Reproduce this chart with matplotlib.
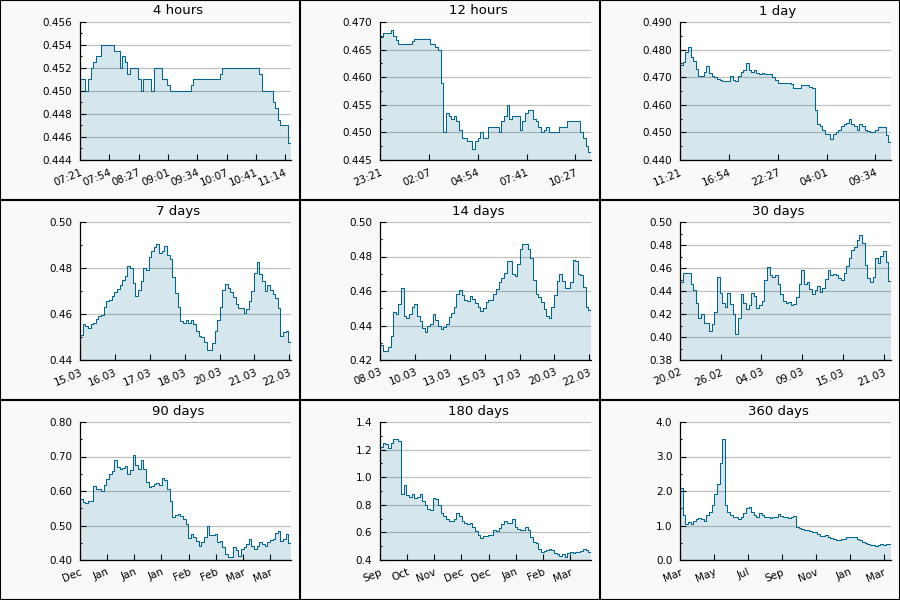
import numpy as np
import matplotlib.pyplot as plt
import matplotlib.transforms as mtransforms
from matplotlib.ticker import MultipleLocator, FormatStrFormatter
from matplotlib.lines import Line2D

# panel titles, time spans (seconds) and x tick spacing (seconds)
titles = ["4 hours", "12 hours", "1 day", "7 days", "14 days", "30 days",
          "90 days", "180 days", "360 days"]
spans = [14400, 43200, 86400, 604800, 1209600, 2592000, 7776000, 15552000, 31104000]
tick_steps = [2000, 10000, 20000, 100000, 200000, 500000, 1000000, 2000000, 5000000]

xlabels = [
    ["07:21", "07:54", "08:27", "09:01", "09:34", "10:07", "10:41", "11:14"],
    ["23:21", "02:07", "04:54", "07:41", "10:27"],
    ["11:21", "16:54", "22:27", "04:01", "09:34"],
    ["15.03", "16.03", "17.03", "18.03", "20.03", "21.03", "22.03"],
    ["08.03", "10.03", "13.03", "15.03", "17.03", "20.03", "22.03"],
    ["20.02", "26.02", "04.03", "09.03", "15.03", "21.03"],
    ["Dec", "Jan", "Jan", "Jan", "Feb", "Feb", "Mar", "Mar"],
    ["Sep", "Oct", "Nov", "Dec", "Dec", "Jan", "Feb", "Mar"],
    ["Mar", "May", "Jul", "Sep", "Nov", "Jan", "Mar"],
]

ylims = [(0.444, 0.456), (0.445, 0.470), (0.440, 0.490), (0.44, 0.50), (0.42, 0.50),
         (0.38, 0.50), (0.40, 0.80), (0.4, 1.4), (0.0, 4.0)]
ymajor = [0.002, 0.005, 0.010, 0.02, 0.02, 0.02, 0.10, 0.2, 1.0]
yfmt = ["%.3f", "%.3f", "%.3f", "%.2f", "%.2f", "%.2f", "%.2f", "%.1f", "%.1f"]

# price readings, evenly spaced over each span
vals_4h = [0.451, 0.451, 0.450, 0.451, 0.452, 0.4525, 0.453, 0.453, 0.454, 0.454,
           0.454, 0.454, 0.454, 0.4535, 0.4535, 0.452, 0.453, 0.4525, 0.4515, 0.452,
           0.452, 0.452, 0.451, 0.450, 0.451, 0.451, 0.451, 0.450, 0.452, 0.452,
           0.452, 0.451, 0.451, 0.4505, 0.450, 0.450, 0.450, 0.450, 0.450, 0.450,
           0.450, 0.450, 0.4505, 0.451, 0.451, 0.451, 0.451, 0.451, 0.451, 0.451,
           0.451, 0.451, 0.451, 0.4515, 0.452, 0.452, 0.452, 0.452, 0.452, 0.452,
           0.452, 0.452, 0.452, 0.452, 0.452, 0.452, 0.452, 0.452, 0.4515, 0.450,
           0.450, 0.450, 0.450, 0.449, 0.4485, 0.4475, 0.447, 0.447, 0.447, 0.4455]
vals_12h = [0.4672, 0.468, 0.468, 0.468, 0.4685, 0.4675, 0.4668, 0.466, 0.466, 0.466,
            0.466, 0.466, 0.4665, 0.467, 0.467, 0.467, 0.467, 0.467, 0.467, 0.466,
            0.466, 0.4655, 0.465, 0.459, 0.450, 0.4535, 0.453, 0.4525, 0.453, 0.452,
            0.4505, 0.449, 0.449, 0.4485, 0.4485, 0.447, 0.4485, 0.449, 0.450, 0.449,
            0.449, 0.451, 0.451, 0.451, 0.451, 0.450, 0.452, 0.453, 0.455, 0.4525,
            0.453, 0.453, 0.453, 0.4505, 0.452, 0.4535, 0.454, 0.454, 0.4525, 0.452,
            0.451, 0.450, 0.4505, 0.451, 0.450, 0.450, 0.450, 0.450, 0.451, 0.451,
            0.451, 0.452, 0.452, 0.452, 0.452, 0.452, 0.450, 0.449, 0.4475, 0.4465]
vals_1d = [0.4745, 0.4755, 0.479, 0.481, 0.4775, 0.476, 0.473, 0.4705, 0.4705, 0.472,
           0.474, 0.4715, 0.4705, 0.470, 0.4695, 0.469, 0.4685, 0.4685, 0.4688, 0.4705,
           0.469, 0.4685, 0.4705, 0.472, 0.4725, 0.475, 0.4725, 0.472, 0.4725, 0.4715,
           0.471, 0.4715, 0.471, 0.471, 0.471, 0.470, 0.469, 0.468, 0.468, 0.468,
           0.468, 0.468, 0.4675, 0.466, 0.466, 0.466, 0.467, 0.467, 0.467, 0.4665,
           0.466, 0.458, 0.453, 0.4525, 0.451, 0.4495, 0.4495, 0.4475, 0.4495, 0.450,
           0.451, 0.4525, 0.453, 0.4535, 0.455, 0.453, 0.4525, 0.451, 0.453, 0.4525,
           0.451, 0.4505, 0.450, 0.450, 0.451, 0.452, 0.452, 0.452, 0.449, 0.4465]
vals_7d = [0.451, 0.4555, 0.455, 0.454, 0.4555, 0.456, 0.458, 0.459, 0.4595, 0.463,
           0.4655, 0.466, 0.468, 0.4695, 0.471, 0.4725, 0.475, 0.4765, 0.481, 0.480,
           0.4735, 0.468, 0.4705, 0.4745, 0.480, 0.479, 0.485, 0.4875, 0.489, 0.4905,
           0.4865, 0.4875, 0.4895, 0.4855, 0.484, 0.476, 0.469, 0.463, 0.457, 0.456,
           0.4575, 0.456, 0.4575, 0.4555, 0.4525, 0.4505, 0.450, 0.448, 0.4445, 0.4445,
           0.4475, 0.4525, 0.4575, 0.463, 0.4705, 0.473, 0.4715, 0.4695, 0.4675, 0.4645,
           0.4625, 0.4625, 0.4605, 0.462, 0.4655, 0.470, 0.478, 0.4825, 0.4775, 0.4745,
           0.470, 0.4725, 0.4705, 0.4685, 0.467, 0.4625, 0.4505, 0.452, 0.4525, 0.448]
vals_14d = [0.4285, 0.4255, 0.425, 0.4275, 0.434, 0.448, 0.4465, 0.4525, 0.462, 0.4455,
            0.4445, 0.4465, 0.4505, 0.4525, 0.4455, 0.4425, 0.4385, 0.4365, 0.4395, 0.441,
            0.4465, 0.443, 0.440, 0.438, 0.439, 0.441, 0.445, 0.4475, 0.451, 0.4585,
            0.4605, 0.4575, 0.4545, 0.454, 0.457, 0.4555, 0.453, 0.4505, 0.4485, 0.450,
            0.4535, 0.455, 0.455, 0.4585, 0.461, 0.465, 0.4675, 0.4705, 0.4775, 0.4775,
            0.470, 0.4685, 0.4755, 0.4845, 0.4875, 0.4875, 0.4845, 0.479, 0.4665, 0.458,
            0.4565, 0.4535, 0.4495, 0.4455, 0.4445, 0.4505, 0.4575, 0.466, 0.470, 0.466,
            0.462, 0.4615, 0.465, 0.478, 0.4775, 0.470, 0.469, 0.4625, 0.4505, 0.449]
vals_30d = [0.448, 0.456, 0.456, 0.4555, 0.4465, 0.4405, 0.430, 0.4165, 0.420, 0.412,
            0.412, 0.4055, 0.4115, 0.4215, 0.4525, 0.438, 0.4295, 0.4265, 0.4385, 0.429,
            0.420, 0.4025, 0.4165, 0.437, 0.4295, 0.4245, 0.428, 0.4385, 0.4355, 0.4255,
            0.4275, 0.4315, 0.4495, 0.461, 0.4535, 0.4525, 0.454, 0.446, 0.437, 0.4315,
            0.430, 0.4305, 0.4275, 0.4285, 0.4345, 0.4465, 0.458, 0.4465, 0.448, 0.442,
            0.4375, 0.441, 0.4445, 0.439, 0.443, 0.4505, 0.458, 0.4535, 0.455, 0.4535,
            0.451, 0.450, 0.4555, 0.4615, 0.4685, 0.4755, 0.478, 0.484, 0.489, 0.482,
            0.4625, 0.4515, 0.4475, 0.452, 0.4685, 0.464, 0.4705, 0.4745, 0.465, 0.449]
vals_90d = [0.578, 0.568, 0.565, 0.570, 0.571, 0.615, 0.605, 0.605, 0.600, 0.618,
            0.635, 0.648, 0.657, 0.690, 0.670, 0.665, 0.668, 0.673, 0.650, 0.660,
            0.705, 0.675, 0.665, 0.690, 0.665, 0.625, 0.612, 0.615, 0.620, 0.622,
            0.618, 0.638, 0.632, 0.605, 0.570, 0.525, 0.530, 0.532, 0.528, 0.520,
            0.505, 0.465, 0.475, 0.468, 0.455, 0.442, 0.452, 0.468, 0.500, 0.472,
            0.473, 0.475, 0.452, 0.455, 0.438, 0.418, 0.408, 0.410, 0.438, 0.428,
            0.412, 0.432, 0.438, 0.445, 0.462, 0.440, 0.432, 0.440, 0.452, 0.445,
            0.442, 0.452, 0.458, 0.460, 0.478, 0.485, 0.455, 0.460, 0.475, 0.450]
vals_180d = [1.22, 1.25, 1.24, 1.21, 1.25, 1.28, 1.28, 1.26, 0.88, 0.94,
             0.87, 0.86, 0.88, 0.85, 0.86, 0.88, 0.83, 0.80, 0.77, 0.76,
             0.85, 0.84, 0.80, 0.74, 0.72, 0.70, 0.68, 0.68, 0.70, 0.74,
             0.72, 0.68, 0.67, 0.66, 0.67, 0.64, 0.61, 0.58, 0.56, 0.575,
             0.575, 0.58, 0.58, 0.62, 0.61, 0.63, 0.66, 0.68, 0.665, 0.665,
             0.70, 0.64, 0.625, 0.62, 0.62, 0.64, 0.62, 0.57, 0.53, 0.52,
             0.48, 0.46, 0.465, 0.47, 0.48, 0.47, 0.45, 0.44, 0.43, 0.44,
             0.425, 0.45, 0.46, 0.45, 0.455, 0.46, 0.465, 0.48, 0.47, 0.46]
vals_360d = [2.1, 1.3, 1.05, 1.1, 1.05, 1.12, 1.18, 1.22, 1.2, 1.12,
             1.3, 1.4, 1.6, 1.9, 2.2, 2.8, 3.5, 1.6, 1.4, 1.3,
             1.25, 1.25, 1.2, 1.25, 1.35, 1.5, 1.55, 1.4, 1.3, 1.25,
             1.35, 1.3, 1.25, 1.25, 1.22, 1.25, 1.25, 1.32, 1.28, 1.25,
             1.25, 1.22, 1.25, 1.28, 0.95, 0.93, 0.9, 0.88, 0.86, 0.85,
             0.8, 0.8, 0.75, 0.7, 0.7, 0.72, 0.68, 0.65, 0.6, 0.58,
             0.57, 0.6, 0.62, 0.67, 0.68, 0.68, 0.66, 0.6, 0.58, 0.52,
             0.48, 0.46, 0.44, 0.43, 0.42, 0.44, 0.45, 0.44, 0.46, 0.45]

series = [vals_4h, vals_12h, vals_1d, vals_7d, vals_14d, vals_30d,
          vals_90d, vals_180d, vals_360d]

line_color = "#00668f"

fig = plt.figure(figsize=(9, 6), dpi=100, facecolor="#f9f9f9")
W, H = 900.0, 600.0
shift_left = mtransforms.ScaledTranslation(-3 / 72, 0, fig.dpi_scale_trans)

for i in range(9):
    r, c = divmod(i, 3)
    ax = fig.add_axes([(c * 300 + 80) / W, 1 - (r * 200 + 160) / H, 211 / W, 138 / H])
    ax.set_facecolor("white")

    vals = np.array(series[i])
    span = spans[i]
    edges = np.linspace(0, span, len(vals) + 1)
    yy = np.append(vals, vals[-1])
    y0 = ylims[i][0]

    ax.fill_between(edges, yy, y0, step="post", color=line_color, alpha=0.16, lw=0, zorder=2)
    ax.step(edges, yy, where="post", color=line_color, lw=0.75, zorder=3)

    ax.set_xlim(0, span)
    ax.set_ylim(*ylims[i])

    ticks = np.arange(len(xlabels[i])) * tick_steps[i]
    ax.set_xticks(ticks)
    ax.set_xticklabels(xlabels[i], rotation=22, ha="right", va="top", rotation_mode="anchor")
    for lab in ax.get_xticklabels():
        lab.set_transform(lab.get_transform() + shift_left)

    ax.yaxis.set_major_locator(MultipleLocator(ymajor[i]))
    ax.yaxis.set_minor_locator(MultipleLocator(ymajor[i] / 2))
    ax.yaxis.set_major_formatter(FormatStrFormatter(yfmt[i]))

    ax.yaxis.grid(True, color="#c0c0c0", lw=0.9, zorder=1)
    ax.set_axisbelow(True)

    for s in ["top", "right"]:
        ax.spines[s].set_visible(False)
    for s in ["left", "bottom"]:
        ax.spines[s].set_color("black")
        ax.spines[s].set_linewidth(0.9)
        ax.spines[s].set_zorder(4)

    ax.tick_params(axis="both", which="major", direction="in", length=4.3, width=0.8,
                   labelsize=7.5, colors="black")
    ax.tick_params(axis="y", which="minor", direction="in", length=1.5, width=0.8)
    ax.tick_params(axis="y", which="major", pad=5.5)
    ax.tick_params(axis="x", which="major", pad=5)

    fig.text((c * 300 + 178) / W, 1 - (r * 200 + 11) / H, titles[i],
             ha="center", va="center", fontsize=9.5, color="black")

# panel borders
for xb in [300, 600]:
    fig.add_artist(Line2D([xb / W, xb / W], [0, 1], color="black", lw=1.5))
for yb in [200, 400]:
    fig.add_artist(Line2D([0, 1], [1 - yb / H, 1 - yb / H], color="black", lw=1.5))
fig.add_artist(plt.Rectangle((0, 0), 1, 1, transform=fig.transFigure, fill=False,
                             edgecolor="black", lw=1.5))

fig.savefig("out.png", dpi=100, facecolor=fig.get_facecolor())
